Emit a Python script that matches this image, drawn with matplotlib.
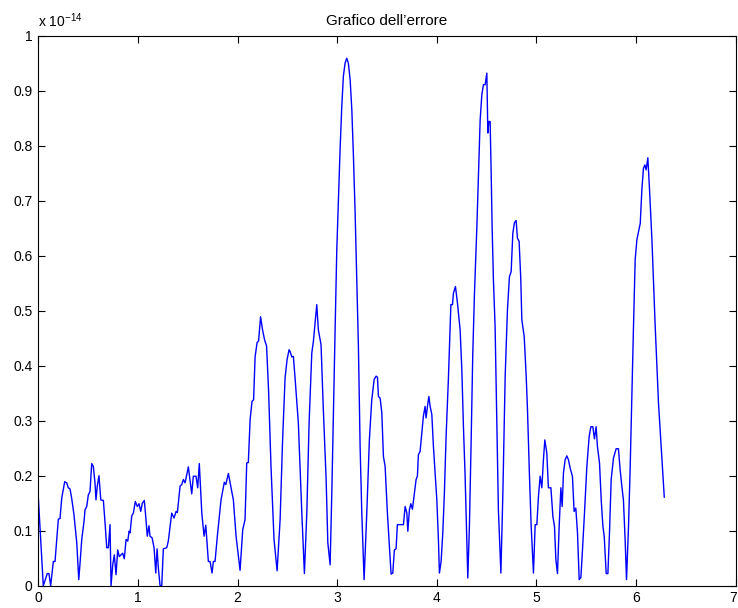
import numpy as np
import matplotlib
matplotlib.use("Agg")
import matplotlib.pyplot as plt
import matplotlib.transforms as mtransforms

plt.rcParams['font.family'] = ['Liberation Sans', 'DejaVu Sans']
plt.rcParams['mathtext.fontset'] = 'custom'
plt.rcParams['mathtext.rm'] = 'Liberation Sans'
plt.rcParams['mathtext.it'] = 'Liberation Sans'

# error values in units of 1e-14
x_vals = [
    0.000, 0.050, 0.090, 0.107, 0.124, 0.151, 0.168, 0.201, 0.218, 0.235,
    0.265, 0.285, 0.301, 0.318, 0.335, 0.358, 0.386, 0.406, 0.419, 0.436,
    0.459, 0.469, 0.486, 0.502, 0.519, 0.536, 0.552, 0.569, 0.579, 0.592,
    0.609, 0.627, 0.653, 0.670, 0.687, 0.703, 0.720, 0.730, 0.747, 0.763,
    0.780, 0.797, 0.813, 0.830, 0.847, 0.863, 0.881, 0.898, 0.911, 0.921,
    0.938, 0.954, 0.974, 0.994, 1.011, 1.028, 1.044, 1.064, 1.081, 1.094,
    1.111, 1.121, 1.142, 1.162, 1.179, 1.192, 1.205, 1.222, 1.239, 1.255,
    1.289, 1.305, 1.339, 1.362, 1.383, 1.396, 1.423, 1.440, 1.456, 1.473,
    1.506, 1.540, 1.556, 1.583, 1.600, 1.616, 1.641, 1.664, 1.681, 1.707,
    1.724, 1.744, 1.757, 1.774, 1.797, 1.834, 1.867, 1.882, 1.908, 1.925,
    1.942, 1.958, 1.985, 2.025, 2.052, 2.075, 2.092, 2.108, 2.126, 2.145,
    2.161, 2.176, 2.196, 2.211, 2.231, 2.251, 2.271, 2.291, 2.311, 2.336,
    2.366, 2.397, 2.427, 2.452, 2.477, 2.497, 2.517, 2.527, 2.544, 2.560,
    2.577, 2.610, 2.645, 2.671, 2.695, 2.718, 2.745, 2.761, 2.795, 2.811,
    2.838, 2.861, 2.889, 2.906, 2.929, 2.946, 2.962, 2.979, 2.996, 3.012,
    3.029, 3.046, 3.062, 3.079, 3.096, 3.112, 3.130, 3.147, 3.163, 3.180,
    3.197, 3.213, 3.230, 3.247, 3.270, 3.297, 3.323, 3.347, 3.371, 3.391,
    3.404, 3.414, 3.431, 3.448, 3.464, 3.481, 3.504, 3.524, 3.541, 3.558,
    3.574, 3.591, 3.604, 3.639, 3.665, 3.682, 3.699, 3.709, 3.725, 3.739,
    3.755, 3.775, 3.792, 3.805, 3.815, 3.832, 3.849, 3.865, 3.882, 3.892,
    3.906, 3.920, 3.933, 3.950, 3.966, 3.983, 4.000, 4.016, 4.026, 4.043,
    4.060, 4.076, 4.093, 4.116, 4.141, 4.157, 4.167, 4.187, 4.207, 4.234,
    4.251, 4.267, 4.284, 4.301, 4.311, 4.327, 4.344, 4.361, 4.378, 4.402,
    4.418, 4.435, 4.452, 4.468, 4.485, 4.502, 4.512, 4.522, 4.535, 4.545,
    4.555, 4.568, 4.585, 4.602, 4.618, 4.643, 4.663, 4.686, 4.709, 4.729,
    4.746, 4.763, 4.779, 4.796, 4.809, 4.826, 4.843, 4.853, 4.877, 4.897,
    4.910, 4.930, 4.947, 4.970, 4.987, 5.004, 5.020, 5.037, 5.054, 5.070,
    5.084, 5.104, 5.120, 5.145, 5.165, 5.181, 5.195, 5.211, 5.228, 5.245,
    5.258, 5.271, 5.288, 5.305, 5.321, 5.338, 5.361, 5.378, 5.395, 5.412,
    5.429, 5.446, 5.462, 5.482, 5.506, 5.529, 5.546, 5.566, 5.582, 5.599,
    5.612, 5.633, 5.650, 5.667, 5.680, 5.700, 5.717, 5.733, 5.750, 5.773,
    5.800, 5.823, 5.840, 5.857, 5.873, 5.890, 5.904, 5.924, 5.941, 5.958,
    5.974, 5.991, 6.008, 6.042, 6.058, 6.074, 6.088, 6.101, 6.118, 6.135,
    6.159, 6.192, 6.225, 6.283,
]
err_vals = [
    0.161, 0.000, 0.022, 0.022, 0.000, 0.044, 0.044, 0.121, 0.122, 0.159,
    0.189, 0.187, 0.178, 0.176, 0.159, 0.129, 0.078, 0.011, 0.041, 0.084,
    0.117, 0.138, 0.144, 0.165, 0.171, 0.222, 0.217, 0.187, 0.156, 0.181,
    0.200, 0.156, 0.155, 0.114, 0.069, 0.069, 0.111, 0.000, 0.038, 0.056,
    0.020, 0.065, 0.053, 0.056, 0.059, 0.049, 0.084, 0.081, 0.099, 0.096,
    0.127, 0.132, 0.153, 0.144, 0.149, 0.135, 0.150, 0.155, 0.120, 0.090,
    0.109, 0.090, 0.087, 0.069, 0.023, 0.067, 0.032, 0.000, 0.000, 0.067,
    0.069, 0.081, 0.132, 0.123, 0.135, 0.133, 0.181, 0.184, 0.193, 0.187,
    0.216, 0.167, 0.199, 0.199, 0.178, 0.222, 0.132, 0.090, 0.110, 0.044,
    0.044, 0.023, 0.044, 0.044, 0.090, 0.156, 0.188, 0.184, 0.204, 0.187,
    0.171, 0.156, 0.090, 0.028, 0.102, 0.120, 0.223, 0.224, 0.302, 0.335,
    0.338, 0.416, 0.442, 0.445, 0.489, 0.465, 0.447, 0.436, 0.356, 0.215,
    0.084, 0.027, 0.120, 0.265, 0.378, 0.411, 0.429, 0.426, 0.416, 0.417,
    0.378, 0.296, 0.132, 0.022, 0.132, 0.296, 0.423, 0.444, 0.511, 0.465,
    0.438, 0.320, 0.193, 0.078, 0.038, 0.169, 0.314, 0.465, 0.611, 0.702,
    0.793, 0.871, 0.926, 0.950, 0.959, 0.950, 0.920, 0.865, 0.781, 0.678,
    0.556, 0.435, 0.253, 0.132, 0.011, 0.132, 0.265, 0.338, 0.375, 0.381,
    0.379, 0.344, 0.341, 0.314, 0.235, 0.217, 0.132, 0.071, 0.021, 0.023,
    0.065, 0.067, 0.111, 0.111, 0.111, 0.144, 0.132, 0.099, 0.138, 0.149,
    0.139, 0.169, 0.193, 0.199, 0.238, 0.244, 0.278, 0.308, 0.326, 0.305,
    0.326, 0.344, 0.326, 0.311, 0.253, 0.205, 0.156, 0.084, 0.023, 0.044,
    0.096, 0.169, 0.271, 0.375, 0.511, 0.511, 0.532, 0.544, 0.514, 0.465,
    0.393, 0.290, 0.199, 0.078, 0.014, 0.108, 0.259, 0.423, 0.532, 0.653,
    0.750, 0.847, 0.893, 0.911, 0.911, 0.932, 0.823, 0.844, 0.844, 0.756,
    0.653, 0.556, 0.471, 0.302, 0.138, 0.023, 0.169, 0.381, 0.502, 0.562,
    0.571, 0.641, 0.660, 0.664, 0.632, 0.626, 0.556, 0.484, 0.453, 0.381,
    0.320, 0.199, 0.108, 0.023, 0.111, 0.111, 0.162, 0.199, 0.178, 0.229,
    0.265, 0.241, 0.178, 0.178, 0.126, 0.108, 0.047, 0.022, 0.108, 0.178,
    0.144, 0.205, 0.229, 0.236, 0.229, 0.214, 0.199, 0.135, 0.141, 0.096,
    0.011, 0.015, 0.065, 0.132, 0.217, 0.271, 0.289, 0.289, 0.267, 0.289,
    0.253, 0.223, 0.156, 0.108, 0.090, 0.022, 0.022, 0.096, 0.193, 0.232,
    0.249, 0.249, 0.211, 0.181, 0.156, 0.084, 0.011, 0.108, 0.217, 0.350,
    0.471, 0.593, 0.629, 0.659, 0.720, 0.759, 0.765, 0.756, 0.778, 0.720,
    0.629, 0.471, 0.332, 0.161,
]

x_ticks = [0, 1, 2, 3, 4, 5, 6, 7]
y_ticks = [0, 0.1, 0.2, 0.3, 0.4, 0.5, 0.6, 0.7, 0.8, 0.9, 1]
y_tick_labels = ['0', '0.1', '0.2', '0.3', '0.4', '0.5', '0.6', '0.7', '0.8', '0.9', '1']
title_text = 'Grafico dell’errore'
exponent_text = r'x 10$^{-14}$'

fig = plt.figure(figsize=(7.38, 6.08), dpi=100)
ax = fig.add_axes([0.0519, 0.0367, 0.945, 0.9046])
ax.plot(x_vals, err_vals, color='#0000ff', linewidth=1.0)
ax.set_xlim(0, 7)
ax.set_ylim(0, 1)
ax.set_xticks(x_ticks)
ax.set_yticks(y_ticks)
ax.set_yticklabels(y_tick_labels)
ax.tick_params(direction='in', top=True, right=True, length=5, width=0.8,
               labelsize=10, pad=4)
for s in ax.spines.values():
    s.set_linewidth(0.8)
ax.set_title(title_text, fontsize=11, pad=8)
fig.text(38 / 738, 1 - 21 / 608, exponent_text, fontsize=10, ha='left', va='center')

# keep the last x tick label inside the figure
last_label = ax.get_xticklabels()[-1]
last_label.set_transform(last_label.get_transform() +
                         mtransforms.ScaledTranslation(-3 / 100, 0, fig.dpi_scale_trans))

fig.savefig('out.png', dpi=100)
